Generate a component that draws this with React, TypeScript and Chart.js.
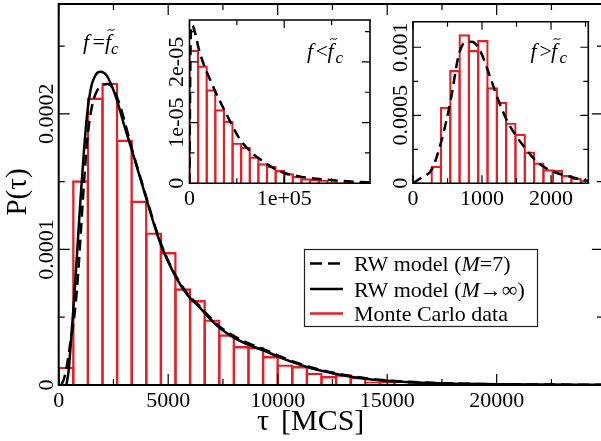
import React, { useEffect, useRef } from 'react';
import { Chart, registerables } from 'chart.js';
Chart.register(...registerables);

const SERIF = '"Liberation Serif", "Times New Roman", Times, serif';
const RED = '#ea1c24';

// ---------- Main panel: f = f~c ----------
const mainBinWidth = 2000 / 3; // MCS
const mainHistogram = [
  1.35e-5, 1.51e-4, 2.12e-4, 2.23e-4, 1.81e-4, 1.36e-4, 1.125e-4, 9.8e-5, 7.13e-5, 6.26e-5,
  4.84e-5, 3.74e-5, 2.87e-5, 2.82e-5, 2.14e-5, 1.52e-5, 1.4e-5, 9.1e-6, 6.6e-6, 7.9e-6,
  6.1e-6, 2.5e-6, 2.5e-6, 2.9e-6, 2.0e-6, 2.0e-6, 1.2e-6, 1.2e-6, 1.2e-6, 1.2e-6,
];
const mainTauInf = [350, 450, 550, 650, 750, 850, 1000, 1150, 1300, 1500, 1700, 1900, 2200, 2600, 3000, 3400, 3900, 4400, 4700, 5300, 5850, 6450, 6900, 7400, 8000, 8700, 9500, 10400, 11500, 12500, 14000, 15500, 17000, 18500, 20000, 22000, 24850];
const mainPInf = [0, 10e-6, 30e-6, 52e-6, 75e-6, 100e-6, 138e-6, 172e-6, 200e-6, 221e-6, 229e-6, 231e-6, 228e-6, 213e-6, 191e-6, 170e-6, 143e-6, 116e-6, 102e-6, 81e-6, 67e-6, 57e-6, 49e-6, 41.5e-6, 35e-6, 29.5e-6, 24.5e-6, 18.5e-6, 12.5e-6, 8.7e-6, 4.6e-6, 2.5e-6, 1.4e-6, 0.9e-6, 0.55e-6, 0.3e-6, 0.15e-6];
const mainTauM7 = [120, 250, 365, 550, 750, 900, 1000, 1150, 1300, 1500, 1750, 2000, 2250, 2500, 2800, 3100, 3400, 3900, 4400, 4700, 5300, 5850, 6450, 6900, 7400, 8000, 8700, 9500, 10400, 11500, 12500, 14000, 15500, 17000, 18500, 20000, 22000, 24850];
const mainPM7 = [0, 5e-6, 13.5e-6, 33e-6, 56e-6, 85e-6, 110e-6, 148e-6, 180e-6, 204e-6, 217e-6, 221e-6, 222e-6, 218e-6, 206e-6, 189e-6, 171e-6, 144e-6, 117e-6, 103e-6, 82e-6, 68e-6, 58e-6, 50e-6, 42.5e-6, 36e-6, 30.5e-6, 25.5e-6, 19.2e-6, 13.2e-6, 9.2e-6, 5.0e-6, 2.8e-6, 1.6e-6, 1.0e-6, 0.6e-6, 0.35e-6, 0.18e-6];
const mainXTicks = [0, 5000, 10000, 15000, 20000];
const mainXTickLabels = ['0', '5000', '10000', '15000', '20000'];
const mainYTicks = [0, 0.0001, 0.0002];
const mainYTickLabels = ['0', '0.0001', '0.0002'];

// ---------- Inset: f < f~c ----------
const lowBinWidth = 9090;
const lowHistogram = [2.2e-5, 1.94e-5, 1.55e-5, 1.22e-5, 1.03e-5, 6.7e-6, 6.0e-6, 4.4e-6, 3.3e-6, 2.9e-6, 2.2e-6, 1.65e-6, 1.2e-6, 8.3e-7, 7.1e-7, 5.5e-7, 2.6e-7, 1.7e-7, 2.0e-7, 1.0e-7];
const lowTau = [0, 600, 1200, 2300, 4000, 10900, 25000, 39000, 53000, 64000, 75000, 95000, 117000, 148000, 180000, 190500];
const lowP = [0, 1.4e-5, 2.3e-5, 2.61e-5, 2.58e-5, 2.15e-5, 1.59e-5, 1.14e-5, 7.3e-6, 5.3e-6, 3.9e-6, 2.0e-6, 1.1e-6, 5.5e-7, 2.0e-7, 1.5e-7];
const lowXTicks = [0, 100000];
const lowXTickLabels = ['0', '1e+05'];
const lowYTicks = [0, 1e-5, 2e-5];
const lowYTickLabels = ['0', '1e-05', '2e-05'];

// ---------- Inset: f > f~c ----------
const highBinWidth = 135;
const highHistogram = [5e-6, 5e-6, 1.29e-4, 5.63e-4, 8.33e-4, 1.096e-3, 9.8e-4, 1.054e-3, 7.06e-4, 6.0e-4, 4.46e-4, 3.63e-4, 2.33e-4, 1.52e-4, 1.03e-4, 9.8e-5, 6.1e-5, 4.1e-5, 2.4e-5];
const highTau = [0, 130, 270, 415, 546, 657, 740, 850, 967, 1116, 1237, 1358, 1502, 1647, 1792, 2034, 2275, 2517, 2540];
const highP = [0, 4.5e-5, 1.0e-4, 3.18e-4, 6.1e-4, 9.3e-4, 1.03e-3, 1.04e-3, 9.8e-4, 7.84e-4, 6.1e-4, 4.65e-4, 3.43e-4, 2.45e-4, 1.59e-4, 8.5e-5, 4.9e-5, 1.9e-5, 1.8e-5];
const highXTicks = [0, 1000, 2000];
const highXTickLabels = ['0', '1000', '2000'];
const highYTicks = [0, 0.0005, 0.001];
const highYTickLabels = ['0', '0.0005', '0.001'];

// ---------- Legend ----------
const legendEntries: { parts: [string, boolean][]; dash: number[]; color: string }[] = [
  { parts: [['RW model (', false], ['M', true], ['=7)', false]], dash: [12, 6], color: '#000' },
  { parts: [['RW model (', false], ['M', true], ['\u2192', false], ['\u221E)', false]], dash: [], color: '#000' },
  { parts: [['Monte Carlo data', false]], dash: [], color: RED },
];

type Decor = {
  xMajor: number; xMinor: number; yMajor: number; yMinor: number;
  majorLen: number; minorLen: number; frameWidth: number; rightFrame: boolean;
  xTicks: number[]; xTickLabels: string[]; xLabelBaseline: number;
  yTicks: number[]; yTickLabels: string[]; yLabelX: number;
  fontSize: number;
  extra?: (ctx: CanvasRenderingContext2D) => void;
};

function decorPlugin(d: Decor) {
  return {
    id: 'decor',
    afterDatasetsDraw(chart: any) {
      const { ctx, chartArea: a } = chart;
      const xs = chart.scales.x;
      const ys = chart.scales.y;
      const near = (v: number, step: number) => Math.abs(v / step - Math.round(v / step)) < 1e-6;
      ctx.save();
      ctx.strokeStyle = '#000';
      ctx.lineWidth = 1.2;
      ctx.beginPath();
      for (let i = 0; ; i++) {
        const v = i * d.xMinor;
        if (v > xs.max + 1e-9) break;
        const px = xs.getPixelForValue(v);
        const len = near(v, d.xMajor) ? d.majorLen : d.minorLen;
        ctx.moveTo(px, a.bottom); ctx.lineTo(px, a.bottom - len);
        ctx.moveTo(px, a.top); ctx.lineTo(px, a.top + len);
      }
      for (let i = 0; ; i++) {
        const v = i * d.yMinor;
        if (v > ys.max + 1e-15) break;
        const py = ys.getPixelForValue(v);
        const len = near(v, d.yMajor) ? d.majorLen : d.minorLen;
        ctx.moveTo(a.left, py); ctx.lineTo(a.left + len, py);
        ctx.moveTo(a.right, py); ctx.lineTo(a.right - len, py);
      }
      ctx.stroke();
      ctx.lineWidth = d.frameWidth;
      ctx.beginPath();
      ctx.moveTo(a.right + 1, a.top);
      ctx.lineTo(a.left, a.top);
      ctx.lineTo(a.left, a.bottom);
      ctx.lineTo(a.right + 1, a.bottom);
      if (d.rightFrame) { ctx.moveTo(a.right, a.top); ctx.lineTo(a.right, a.bottom); }
      ctx.stroke();
      ctx.fillStyle = '#000';
      ctx.font = `${d.fontSize}px ${SERIF}`;
      ctx.textAlign = 'center';
      ctx.textBaseline = 'alphabetic';
      d.xTicks.forEach((v, i) => ctx.fillText(d.xTickLabels[i], xs.getPixelForValue(v), d.xLabelBaseline));
      d.yTicks.forEach((v, i) => {
        ctx.save();
        ctx.translate(d.yLabelX, ys.getPixelForValue(v));
        ctx.rotate(-Math.PI / 2);
        ctx.fillText(d.yTickLabels[i], 0, 0);
        ctx.restore();
      });
      if (d.extra) d.extra(ctx);
      ctx.restore();
    },
  };
}

function drawFLabel(ctx: CanvasRenderingContext2D, rel: string, xs: number[], baseline: number) {
  ctx.save();
  ctx.fillStyle = '#000';
  ctx.textAlign = 'left';
  ctx.textBaseline = 'alphabetic';
  ctx.font = `italic 22px ${SERIF}`;
  ctx.fillText('f', xs[0], baseline);
  ctx.font = `22px ${SERIF}`;
  ctx.fillText(rel, xs[1], baseline);
  ctx.font = `italic 22px ${SERIF}`;
  ctx.fillText('f', xs[2], baseline);
  ctx.font = `italic 17px ${SERIF}`;
  ctx.fillText('c', xs[3], baseline + 5);
  const tx = xs[2] + 6, ty = baseline - 19;
  ctx.lineWidth = 1;
  ctx.strokeStyle = '#000';
  ctx.beginPath();
  ctx.moveTo(tx - 3.5, ty + 1);
  ctx.bezierCurveTo(tx - 1.5, ty - 2.5, tx + 1.5, ty + 2.5, tx + 3.5, ty - 1);
  ctx.stroke();
  ctx.restore();
}

function drawLegend(ctx: CanvasRenderingContext2D) {
  ctx.save();
  ctx.fillStyle = '#fff';
  ctx.fillRect(304, 249, 234, 78);
  ctx.strokeStyle = '#222';
  ctx.lineWidth = 1.2;
  ctx.strokeRect(304.5, 249.5, 233, 77);
  const rowY = [263.5, 289, 313.5];
  legendEntries.forEach((e, i) => {
    const y = rowY[i];
    ctx.strokeStyle = e.color;
    ctx.lineWidth = 2.5;
    ctx.setLineDash(e.dash);
    ctx.beginPath();
    ctx.moveTo(310, y);
    ctx.lineTo(343, y);
    ctx.stroke();
    ctx.setLineDash([]);
    let x = 354;
    ctx.fillStyle = '#000';
    ctx.textAlign = 'left';
    ctx.textBaseline = 'alphabetic';
    e.parts.forEach(([t, it]) => {
      ctx.font = `${it ? 'italic ' : ''}22px ${SERIF}`;
      ctx.fillText(t, x, y + 7.5);
      x += ctx.measureText(t).width;
    });
  });
  ctx.restore();
}

type Spec = {
  hist: number[]; binWidth: number;
  curves: { tau: number[]; p: number[]; dash: number[] }[];
  xMax: number; yMax: number; canvasW: number;
  padding: { left: number; top: number; right: number; bottom: number };
  decor: Decor; barBorder: number; lineWidth: number;
};

function buildConfig(s: Spec): any {
  const areaW = s.canvasW - s.padding.left - s.padding.right;
  const binPx = (s.binWidth / s.xMax) * areaW;
  const lineSets = s.curves.map((c) => ({
    type: 'line',
    data: c.tau.map((t, i) => ({ x: t, y: c.p[i] })),
    borderColor: '#000',
    borderWidth: s.lineWidth,
    borderDash: c.dash,
    pointRadius: 0,
    fill: false,
    cubicInterpolationMode: 'monotone',
  }));
  return {
    type: 'bar',
    data: {
      datasets: [
        ...lineSets,
        {
          type: 'bar',
          data: s.hist.map((v, i) => ({ x: (i + 0.5) * s.binWidth, y: v })),
          backgroundColor: 'rgba(0,0,0,0)',
          borderColor: RED,
          borderWidth: s.barBorder,
          borderSkipped: 'start',
          barThickness: binPx + s.barBorder,
          inflateAmount: 0,
          grouped: false,
        },
      ],
    },
    options: {
      animation: false,
      responsive: false,
      maintainAspectRatio: false,
      devicePixelRatio: 1,
      events: [],
      layout: { padding: s.padding },
      plugins: { legend: { display: false }, tooltip: { enabled: false } },
      scales: {
        x: { type: 'linear', display: false, min: 0, max: s.xMax, offset: false },
        y: { type: 'linear', display: false, min: 0, max: s.yMax },
      },
    },
    plugins: [decorPlugin(s.decor)],
  };
}

const mainSpec: Spec = {
  hist: mainHistogram, binWidth: mainBinWidth,
  curves: [
    { tau: mainTauM7, p: mainPM7, dash: [11, 6] },
    { tau: mainTauInf, p: mainPInf, dash: [] },
  ],
  xMax: 24850, yMax: 0.000281, canvasW: 620,
  padding: { left: 58.7, top: 4, right: 17.1, bottom: 56 },
  barBorder: 2.4, lineWidth: 2.5,
  decor: {
    xMajor: 5000, xMinor: 2500, yMajor: 0.0001, yMinor: 0.00005,
    majorLen: 11, minorLen: 6, frameWidth: 2, rightFrame: false,
    xTicks: mainXTicks, xTickLabels: mainXTickLabels, xLabelBaseline: 407,
    yTicks: mainYTicks, yTickLabels: mainYTickLabels, yLabelX: 53,
    fontSize: 22,
    extra: (ctx) => {
      ctx.save();
      ctx.fillStyle = '#000';
      ctx.textBaseline = 'alphabetic';
      ctx.font = `30px ${SERIF}`;
      ctx.textAlign = 'left';
      ctx.fillText('\u03C4', 257, 430);
      ctx.fillText('[MCS]', 281, 430);
      ctx.textAlign = 'center';
      ctx.font = `29px ${SERIF}`;
      ctx.translate(26, 192);
      ctx.rotate(-Math.PI / 2);
      ctx.fillText('P(\u03C4)', 0, 0);
      ctx.restore();
      drawFLabel(ctx, '=', [83, 92.5, 105, 111], 49);
      drawLegend(ctx);
    },
  },
};

const lowSpec: Spec = {
  hist: lowHistogram, binWidth: lowBinWidth,
  curves: [{ tau: lowTau, p: lowP, dash: [10, 6] }],
  xMax: 190500, yMax: 2.69e-5, canvasW: 230,
  padding: { left: 39.5, top: 10, right: 10, bottom: 26.7 },
  barBorder: 2.2, lineWidth: 2.5,
  decor: {
    xMajor: 100000, xMinor: 50000, yMajor: 1e-5, yMinor: 5e-6,
    majorLen: 8, minorLen: 5, frameWidth: 1.6, rightFrame: true,
    xTicks: lowXTicks, xTickLabels: lowXTickLabels, xLabelBaseline: 195,
    yTicks: lowYTicks, yTickLabels: lowYTickLabels, yLabelX: 33,
    fontSize: 22,
    extra: (ctx) => drawFLabel(ctx, '<', [157, 165.5, 177.5, 185.5], 48),
  },
};

const highSpec: Spec = {
  hist: highHistogram, binWidth: highBinWidth,
  curves: [{ tau: highTau, p: highP, dash: [10, 6] }],
  xMax: 2540, yMax: 0.001188, canvasW: 221,
  padding: { left: 33, top: 11.7, right: 12.7, bottom: 26.7 },
  barBorder: 2.2, lineWidth: 2.5,
  decor: {
    xMajor: 1000, xMinor: 500, yMajor: 0.0005, yMinor: 0.00025,
    majorLen: 8, minorLen: 5, frameWidth: 1.6, rightFrame: true,
    xTicks: highXTicks, xTickLabels: highXTickLabels, xLabelBaseline: 195,
    yTicks: highYTicks, yTickLabels: highYTickLabels, yLabelX: 26.5,
    fontSize: 22,
    extra: (ctx) => drawFLabel(ctx, '>', [150.5, 159.5, 171, 179.5], 48),
  },
};

export default function App() {
  const mainRef = useRef<HTMLCanvasElement>(null);
  const lowRef = useRef<HTMLCanvasElement>(null);
  const highRef = useRef<HTMLCanvasElement>(null);
  useEffect(() => {
    const charts = [
      new Chart(mainRef.current as HTMLCanvasElement, buildConfig(mainSpec)),
      new Chart(lowRef.current as HTMLCanvasElement, buildConfig(lowSpec)),
      new Chart(highRef.current as HTMLCanvasElement, buildConfig(highSpec)),
    ];
    return () => charts.forEach((c) => c.destroy());
  }, []);
  const cs = (l: number, t: number, w: number, h: number): React.CSSProperties => ({
    position: 'absolute', left: l, top: t, width: w, height: h, display: 'block',
  });
  return (
    <div style={{ position: 'fixed', left: 0, top: 0, width: 601, height: 441, overflow: 'hidden', background: '#fff' }}>
      <canvas ref={mainRef} width={620} height={441} style={cs(0, 0, 620, 441)} />
      <canvas ref={lowRef} width={230} height={200} style={cs(150, 10, 230, 200)} />
      <canvas ref={highRef} width={221} height={200} style={cs(380, 10, 221, 200)} />
    </div>
  );
}
